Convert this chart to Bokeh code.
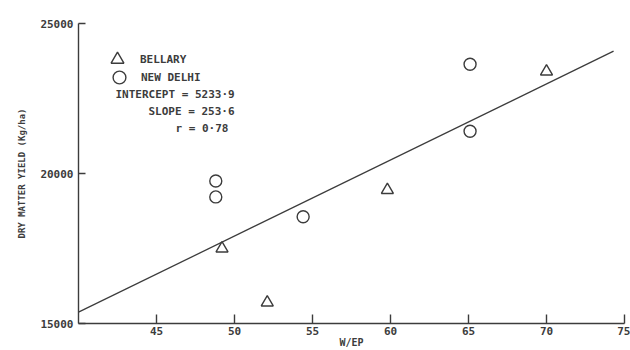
from bokeh.plotting import figure
from bokeh.models import Range1d, FixedTicker, Label, Legend, LegendItem
from bokeh.embed import file_html
from bokeh.resources import INLINE

# ---- data ----
bellary_wep = [49.2, 52.1, 59.8, 70.0]
bellary_yield = [17500, 15700, 19450, 23400]
delhi_wep = [48.8, 48.8, 54.4, 65.1, 65.1]
delhi_yield = [19750, 19220, 18560, 23640, 21410]
intercept = 5233.9
slope = 253.6
r_value = 0.78
fit_wep = [40.0, 74.3]
x_ticks = [45, 50, 55, 60, 65, 70, 75]
y_ticks = [15000, 20000, 25000]

fit_yield = [intercept + slope * x for x in fit_wep]

INK = "#3c3c3c"
FONT = "DejaVu Sans Mono"

p = figure(width=630, height=350,
           x_range=Range1d(40, 75), y_range=Range1d(15000, 25000),
           output_backend="svg", toolbar_location=None,
           min_border_left=78, min_border_right=6,
           min_border_top=23, min_border_bottom=26)
p.grid.visible = False
p.outline_line_color = None
p.background_fill_color = "white"
p.border_fill_color = "white"

p.line(fit_wep, fit_yield, line_color=INK, line_width=1.3)
rb = p.scatter(bellary_wep, bellary_yield, marker="triangle", size=12,
               fill_color=None, line_color=INK, line_width=1.4)
rd = p.scatter(delhi_wep, delhi_yield, marker="circle", size=12,
               fill_color=None, line_color=INK, line_width=1.4)

for ax in (p.xaxis[0], p.yaxis[0]):
    ax.axis_line_color = INK
    ax.axis_line_width = 1.4
    ax.major_tick_line_color = INK
    ax.major_tick_line_width = 1.4
    ax.minor_tick_line_color = None
    ax.major_label_text_font = FONT
    ax.major_label_text_font_size = "11px"
    ax.major_label_text_font_style = "bold"
    ax.major_label_text_color = INK
    ax.axis_label_text_font = FONT
    ax.axis_label_text_font_style = "bold"
    ax.axis_label_text_color = INK

p.xaxis[0].ticker = FixedTicker(ticks=x_ticks)
p.xaxis[0].major_tick_in = 9
p.xaxis[0].major_tick_out = 0
p.xaxis[0].major_label_standoff = 3
p.xaxis[0].axis_label = "W/EP"
p.xaxis[0].axis_label_text_font_size = "10px"
p.xaxis[0].axis_label_standoff = -1

p.yaxis[0].ticker = FixedTicker(ticks=y_ticks)
p.yaxis[0].major_tick_in = 7
p.yaxis[0].major_tick_out = 0
p.yaxis[0].major_label_standoff = 5
p.yaxis[0].axis_label = "DRY MATTER YIELD (Kg/ha)"
p.yaxis[0].axis_label_text_font_size = "9px"
p.yaxis[0].axis_label_standoff = 10

legend_style = dict(margin=0, padding=0, glyph_width=32, glyph_height=32,
                    border_line_color=None, background_fill_alpha=0,
                    label_text_font=FONT, label_text_font_size="11px",
                    label_text_font_style="bold", label_text_color=INK)
p.add_layout(Legend(items=[LegendItem(label="BELLARY", renderers=[rb])],
                    location=(23, 248), label_standoff=7, **legend_style))
p.add_layout(Legend(items=[LegendItem(label="NEW DELHI", renderers=[rd])],
                    location=(25, 230), label_standoff=6, **legend_style))

def fmt(v):
    return str(v).replace(".", "·")

stats = [("INTERCEPT = " + fmt(intercept), 37, 229),
         ("SLOPE = " + fmt(slope), 70, 212),
         ("r = " + fmt(r_value), 97, 195)]
for txt, sx, sy in stats:
    p.add_layout(Label(x=sx, y=sy, x_units="screen", y_units="screen",
                       text=txt, text_font=FONT, text_font_size="11px",
                       text_font_style="bold", text_color=INK,
                       text_baseline="middle"))

open("out.html", "w").write(file_html(p, INLINE))
